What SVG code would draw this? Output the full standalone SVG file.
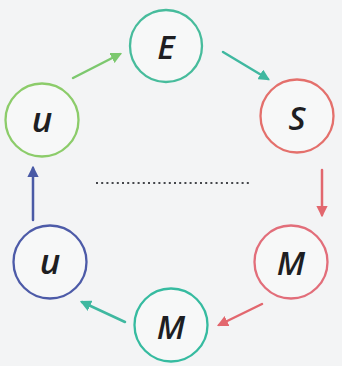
<svg xmlns="http://www.w3.org/2000/svg" width="342" height="366" viewBox="0 0 342 366">
<style>
.n{fill:#ffffff;fill-opacity:0.35;stroke-width:2.3}
.t{font-family:"Open Sans","Liberation Sans",sans-serif;font-style:italic;font-weight:600;fill:#1e1e22;text-anchor:middle;dominant-baseline:central}
.c{fill:none;stroke-width:2.5;stroke-linecap:round}
</style>
<defs>
<marker id="aG" viewBox="0 0 10 10" refX="8" refY="5" markerWidth="4.5" markerHeight="4.5" orient="auto"><path d="M0,0L10,5L0,10z" fill="#7cc86e"/></marker>
<marker id="aT" viewBox="0 0 10 10" refX="8" refY="5" markerWidth="4.5" markerHeight="4.5" orient="auto"><path d="M0,0L10,5L0,10z" fill="#3fb8a0"/></marker>
<marker id="aR" viewBox="0 0 10 10" refX="8" refY="5" markerWidth="4.5" markerHeight="4.5" orient="auto"><path d="M0,0L10,5L0,10z" fill="#e2676e"/></marker>
<marker id="aB" viewBox="0 0 10 10" refX="8" refY="5" markerWidth="4.5" markerHeight="4.5" orient="auto"><path d="M0,0L10,5L0,10z" fill="#4a5aa6"/></marker>
</defs>
<rect width="342" height="366" fill="#f3f4f5"/>
<g id="connectors">
<line class="c" x1="73" y1="78" x2="120" y2="54" stroke="#7cc86e" marker-end="url(#aG)"/>
<line class="c" x1="223" y1="52" x2="268" y2="79" stroke="#3fb8a0" marker-end="url(#aT)"/>
<line class="c" x1="322" y1="170" x2="322" y2="215" stroke="#e2676e" marker-end="url(#aR)"/>
<line class="c" x1="262" y1="304" x2="219" y2="325" stroke="#e2676e" marker-end="url(#aR)"/>
<line class="c" x1="125" y1="322" x2="82" y2="302" stroke="#3fb8a0" marker-end="url(#aT)"/>
<line class="c" x1="33" y1="220" x2="33" y2="168" stroke="#4a5aa6" marker-end="url(#aB)"/>
<line x1="96" y1="183" x2="252" y2="183" stroke="#44464b" stroke-width="2.2" stroke-dasharray="2 3.2"/>
</g>
<g id="nE"><circle class="n" cx="166" cy="46" r="36" stroke="#47bc9c"/><text class="t" x="166" y="46" font-size="33">E</text></g>
<g id="nS"><circle class="n" cx="297" cy="116" r="36.5" stroke="#e4706c"/><text class="t" x="297" y="117" font-size="33">S</text></g>
<g id="nM1"><circle class="n" cx="291" cy="262" r="36.5" stroke="#e26e7a"/><text class="t" x="291" y="262" font-size="33">M</text></g>
<g id="nM2"><circle class="n" cx="171" cy="325" r="36.5" stroke="#36bba0"/><text class="t" x="171" y="326" font-size="33">M</text></g>
<g id="nU2"><circle class="n" cx="50" cy="262" r="36.5" stroke="#4d5ba8"/><text class="t" x="50" y="260" font-size="35">u</text></g>
<g id="nU1"><circle class="n" cx="42" cy="120" r="36.5" stroke="#8ccc6a"/><text class="t" x="42" y="118" font-size="35">u</text></g>
</svg>
